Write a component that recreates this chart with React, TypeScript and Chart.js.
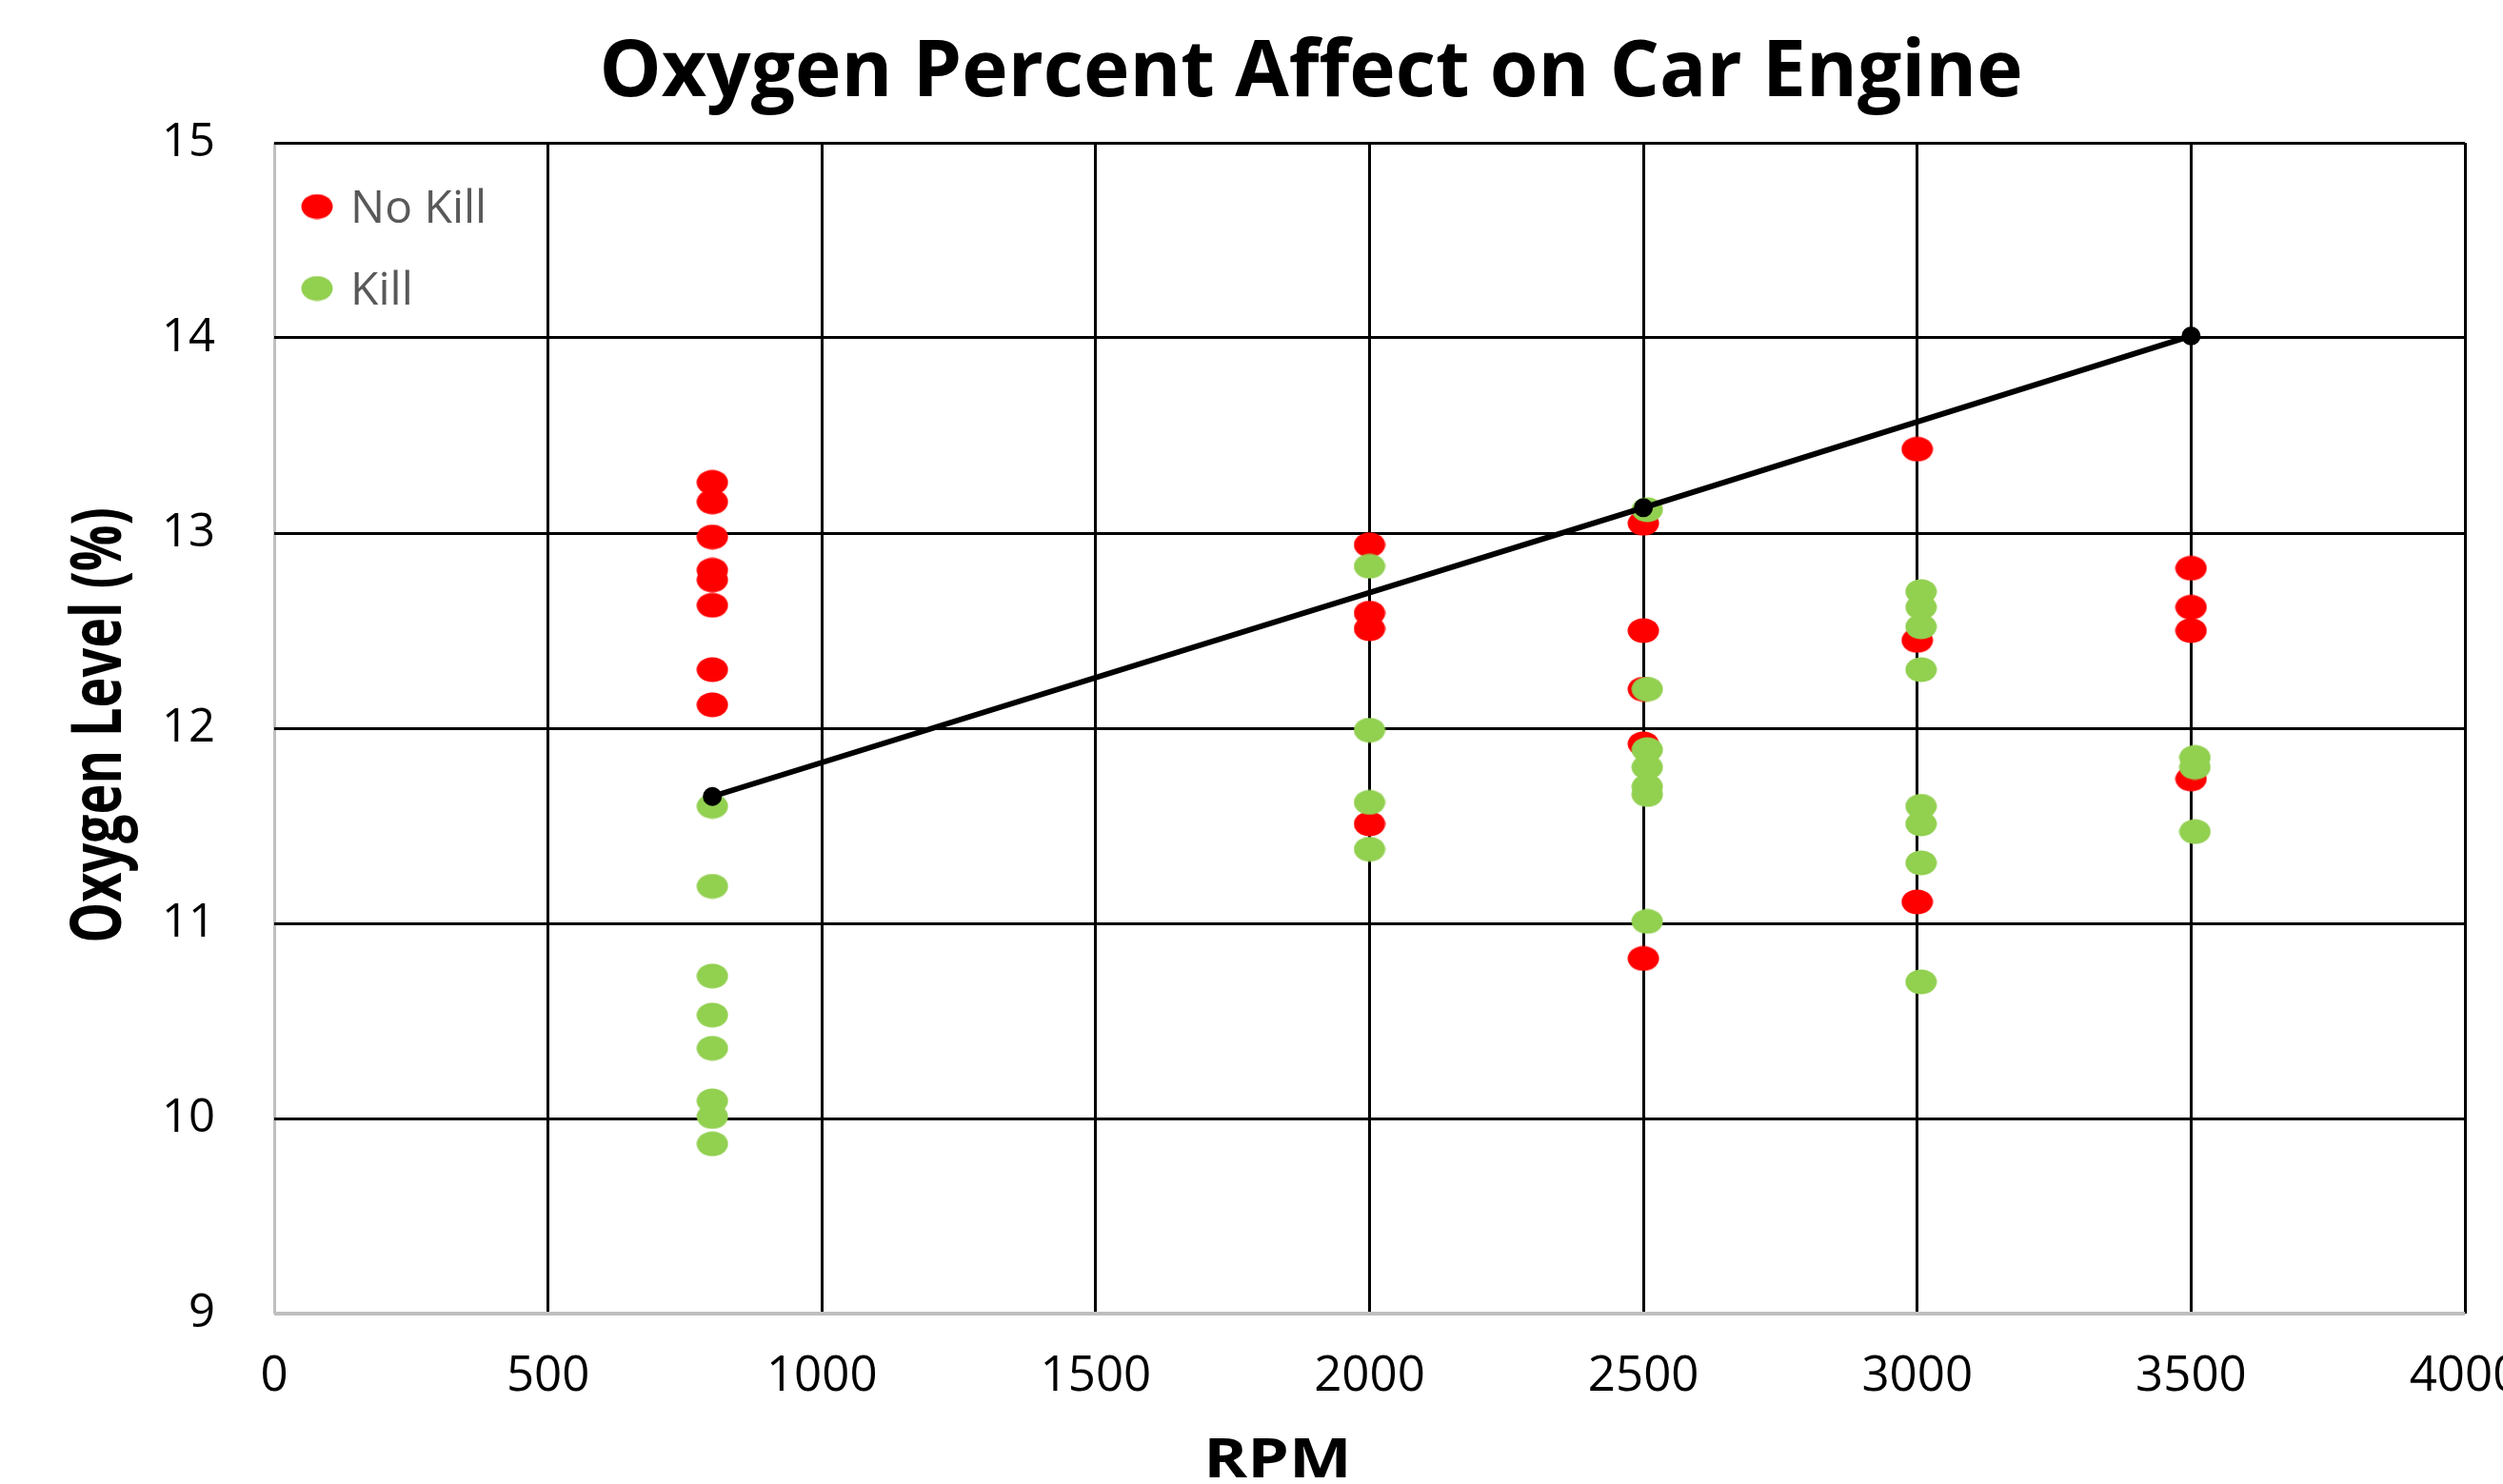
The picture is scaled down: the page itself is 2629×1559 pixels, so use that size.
import { useEffect, useRef } from 'react';
import { Chart, registerables } from 'chart.js';

Chart.register(...registerables);

const chartTitle = 'Oxygen Percent Affect on Car Engine';
const xAxisTitle = 'RPM';
const yAxisTitle = 'Oxygen Level (%)';
const seriesNames = ['No Kill', 'Kill'];

const xMin = 0;
const xMax = 4000;
const xStep = 500;
const yMin = 9;
const yMax = 15;
const yStep = 1;

const noKillRpm = [
  800, 800, 800, 800, 800, 800, 800, 800,
  2000, 2000, 2000, 2000,
  2500, 2500, 2500, 2500, 2500,
  3000, 3000, 3000,
  3500, 3500, 3500, 3500,
];
const noKillO2 = [
  13.26, 13.16, 12.98, 12.81, 12.76, 12.63, 12.3, 12.12,
  12.94, 12.59, 12.51, 11.51,
  13.05, 12.5, 12.2, 11.92, 10.82,
  13.43, 12.45, 11.11,
  12.82, 12.62, 12.5, 11.74,
];

const killRpm = [
  800, 800, 800, 800, 800, 800, 800, 800,
  2000, 2000, 2000, 2000,
  2507, 2507, 2507, 2507, 2507, 2507, 2507,
  3007, 3007, 3007, 3007, 3007, 3007, 3007, 3007,
  3507, 3507, 3507,
];
const killO2 = [
  11.6, 11.19, 10.73, 10.53, 10.36, 10.09, 10.01, 9.87,
  12.83, 11.99, 11.62, 11.38,
  13.12, 12.2, 11.89, 11.8, 11.7, 11.66, 11.01,
  12.7, 12.62, 12.52, 12.3, 11.6, 11.51, 11.31, 10.7,
  11.85, 11.8, 11.47,
];

const trendRpm = [800, 2500, 3500];
const trendO2 = [11.65, 13.13, 14.01];

const RED = '#FF0000';
const GREEN = '#92D050';

function makeEllipse(color: string, w: number, h: number) {
  const c = document.createElement('canvas');
  c.width = w;
  c.height = h;
  const g = c.getContext('2d')!;
  g.fillStyle = color;
  g.beginPath();
  g.ellipse(w / 2, h / 2, w / 2 - 0.5, h / 2 - 0.5, 0, 0, Math.PI * 2);
  g.fill();
  return c;
}

const toPoints = (xs: number[], ys: number[]) => xs.map((x, i) => ({ x, y: ys[i] }));

// Draws the chart title, axis titles and the in-plot legend (Excel style)
const titlesPlugin = {
  id: 'excelTitles',
  afterDraw(chart: any) {
    const ctx = chart.ctx as CanvasRenderingContext2D;
    const area = chart.chartArea;
    ctx.save();
    ctx.fillStyle = '#000000';
    ctx.textAlign = 'center';
    ctx.textBaseline = 'alphabetic';
    ctx.font = 'bold 82px "Open Sans"';
    ctx.fillText(chartTitle, 1377, 101);

    ctx.save();
    ctx.translate(1342, 1552);
    ctx.scale(1.2, 1);
    ctx.font = 'bold 58px "Open Sans"';
    ctx.fillText(xAxisTitle, 0, 0);
    ctx.restore();

    ctx.save();
    ctx.translate(127, 762);
    ctx.rotate(-Math.PI / 2);
    ctx.scale(1, 1.35);
    ctx.font = 'bold 54px "Open Sans"';
    ctx.fillText(yAxisTitle, 0, 0);
    ctx.restore();

    // legend inside plot area, top-left
    ctx.textAlign = 'left';
    ctx.font = '48px "Open Sans"';
    ctx.fillStyle = '#595959';
    [0, 1].forEach((i) => {
      const ds = chart.data.datasets[i];
      const cy = area.top + 67 + i * 86;
      const img = ds.pointStyle as HTMLCanvasElement;
      ctx.drawImage(img, area.left + 45 - img.width / 2, cy - img.height / 2);
      ctx.fillText(ds.label, area.left + 80, cy + 17);
    });
    ctx.restore();
  },
};

export default function App() {
  const ref = useRef<HTMLCanvasElement>(null);

  useEffect(() => {
    if (!ref.current) return;
    const redDot = makeEllipse(RED, 34, 27);
    const greenDot = makeEllipse(GREEN, 34, 27);

    const chart = new Chart(ref.current, {
      type: 'scatter',
      data: {
        datasets: [
          {
            label: seriesNames[0],
            data: toPoints(noKillRpm, noKillO2),
            pointStyle: redDot as any,
            backgroundColor: RED,
            borderColor: RED,
            order: 2,
          },
          {
            label: seriesNames[1],
            data: toPoints(killRpm, killO2),
            pointStyle: greenDot as any,
            backgroundColor: GREEN,
            borderColor: GREEN,
            order: 1,
          },
          {
            label: 'Trend',
            data: toPoints(trendRpm, trendO2),
            showLine: true,
            borderColor: '#000000',
            backgroundColor: '#000000',
            borderWidth: 6,
            pointRadius: 7,
            pointStyle: 'circle',
            order: 0,
          } as any,
        ],
      },
      options: {
        animation: false,
        responsive: true,
        maintainAspectRatio: false,
        devicePixelRatio: 1,
        layout: { padding: { left: 0, right: 40, top: 150, bottom: 0 } },
        plugins: {
          title: { display: false },
          tooltip: { enabled: false },
          legend: { display: false },
        },
        scales: {
          x: {
            type: 'linear',
            min: xMin,
            max: xMax,
            afterFit: (s: any) => {
              s.height = 179;
              s.paddingLeft = 0;
              s.paddingRight = 0;
            },
            ticks: {
              stepSize: xStep,
              padding: 36,
              color: '#000000',
              font: { family: '"Open Sans"', size: 51 },
              maxRotation: 0,
              autoSkip: false,
              callback: (v: any) => String(v),
            },
            grid: {
              drawTicks: false,
              color: (c: any) => (c.tick && c.tick.value === xMin ? '#bfbfbf' : '#000000'),
              lineWidth: 3,
            },
            border: { display: false },
          },
          y: {
            type: 'linear',
            min: yMin,
            max: yMax,
            afterFit: (s: any) => {
              s.width = 288;
              s.paddingTop = 0;
              s.paddingBottom = 0;
            },
            ticks: {
              stepSize: yStep,
              padding: 62,
              color: '#000000',
              font: { family: '"Open Sans"', size: 49 },
              callback: (v: any) => String(v),
            },
            grid: {
              drawTicks: false,
              color: (c: any) => (c.tick && c.tick.value === yMin ? '#bfbfbf' : '#000000'),
              lineWidth: (c: any) => (c.tick && c.tick.value === yMin ? 4 : 3),
            },
            border: { display: false },
          },
        },
      },
      plugins: [titlesPlugin],
    });
    return () => chart.destroy();
  }, []);

  return (
    <div style={{ position: 'fixed', left: 0, top: 0, width: 2629, height: 1559, background: '#ffffff' }}>
      <canvas ref={ref} />
    </div>
  );
}
